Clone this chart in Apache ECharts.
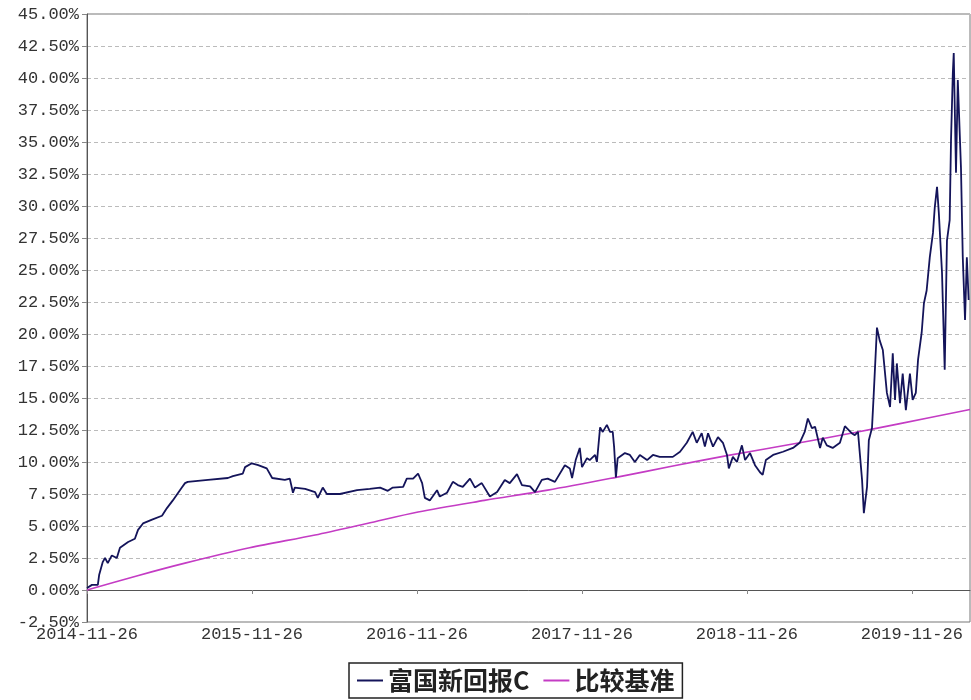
<!DOCTYPE html>
<html>
<head>
<meta charset="utf-8">
<script src="https://cdn.jsdelivr.net/npm/echarts@6/dist/echarts.min.js"></script>
<style>html,body{margin:0;padding:0;background:#fff;}#c{width:971px;height:700px;}</style>
</head>
<body>
<div id="c"></div>
<script>
// Tick labels (one per year, starting 2014-11-26)
var tickLabels = ['2014-11-26','2015-11-26','2016-11-26','2017-11-26','2018-11-26','2019-11-26'];
var daysPerYear = 365.25;
var lastDay = 1955;

// Fund: days since 2014-11-26 and cumulative return (%)
var fundDays = [0,11,24,27,35,40,46,55,66,73,91,106,113,124,144,166,177,190,210,217,223,268,312,323,345,350,365,379,398,410,438,449,456,460,483,505,511,522,531,560,598,626,649,666,677,700,708,722,733,742,748,759,775,781,797,810,821,832,848,859,874,892,908,925,936,952,963,981,992,1007,1020,1036,1058,1069,1074,1082,1091,1096,1107,1113,1125,1129,1136,1142,1151,1158,1164,1167,1171,1175,1191,1202,1213,1224,1240,1253,1268,1297,1313,1328,1341,1350,1361,1368,1375,1386,1397,1408,1417,1421,1430,1439,1450,1457,1468,1479,1490,1496,1503,1519,1541,1563,1578,1589,1596,1605,1612,1623,1629,1638,1651,1667,1678,1693,1700,1707,1716,1720,1727,1731,1738,1742,1749,1755,1762,1771,1778,1784,1789,1793,1800,1806,1813,1822,1828,1835,1840,1848,1853,1859,1866,1873,1877,1882,1886,1893,1899,1904,1910,1913,1917,1919,1924,1928,1935,1939,1944,1948,1952];
var fundValues = [0.15,0.4,0.4,1.2,2.2,2.5,2.1,2.7,2.5,3.3,3.75,4.0,4.7,5.2,5.5,5.8,6.4,7.0,8.0,8.35,8.45,8.6,8.75,8.9,9.1,9.6,9.9,9.75,9.5,8.75,8.6,8.7,7.6,8.0,7.9,7.65,7.2,8.0,7.5,7.5,7.8,7.9,8.0,7.75,8.0,8.05,8.7,8.7,9.1,8.35,7.2,7.0,7.8,7.3,7.6,8.45,8.2,8.05,8.7,8.0,8.35,7.3,7.65,8.6,8.35,9.05,8.2,8.1,7.65,8.6,8.7,8.45,9.75,9.5,8.75,10.15,11.1,9.6,10.3,10.15,10.55,10.0,12.7,12.35,12.9,12.35,12.35,11.2,8.8,10.3,10.7,10.55,10.0,10.55,10.15,10.55,10.4,10.4,10.8,11.5,12.35,11.5,12.25,11.2,12.25,11.2,11.95,11.5,10.55,9.5,10.4,10.0,11.3,10.15,10.7,9.75,9.2,9.0,10.15,10.55,10.8,11.1,11.5,12.35,13.4,12.65,12.75,11.1,11.9,11.3,11.1,11.5,12.8,12.25,12.1,12.35,8.6,6.0,8.05,11.7,12.65,15.4,20.5,19.5,18.75,15.4,14.3,18.5,14.85,17.7,14.6,16.9,14.05,16.9,14.85,15.4,18.0,20.1,22.4,23.4,26.0,27.9,29.9,31.5,29.45,24.8,17.2,27.3,28.9,35.2,40.4,41.95,32.6,39.85,33.0,26.0,21.1,26.0,22.65];

// Benchmark: days and cumulative return (%)
var benchDays = [0,110,217,360,505,620,733,880,1020,1171,1300,1417,1578,1700,1800,1955];
var benchValues = [0,1.1,2.1,3.3,4.3,5.2,6.1,7.0,7.8,8.8,9.7,10.5,11.5,12.3,13.0,14.1];

var fundName = '富国新回报C';
var benchName = '比较基准';

function pairs(xs, ys){ var o=[]; for(var i=0;i<xs.length;i++) o.push([xs[i], ys[i]]); return o; }

var chart = echarts.init(document.getElementById('c'));
var mono = 'Liberation Mono';
chart.setOption({
  animation: false,
  backgroundColor: '#ffffff',
  grid: { left: 87, right: 1, top: 14, bottom: 78, show: true, borderColor: '#777', borderWidth: 1, backgroundColor: 'transparent' },
  legend: {
    bottom: 2, left: 349,
    borderColor: '#222', borderWidth: 1.5, padding: [5, 8, 5, 8],
    itemWidth: 26, itemHeight: 2, itemGap: 14,
    icon: 'rect',
    textStyle: { fontFamily: 'Noto Sans CJK SC', fontSize: 25, fontWeight: 'bold', color: '#222' },
    data: [fundName, benchName]
  },
  xAxis: {
    type: 'value', min: 0, max: lastDay, interval: daysPerYear,
    axisLine: { show: true, lineStyle: { color: '#555', width: 1 } },
    axisTick: { show: true, length: 4, lineStyle: { color: '#888' } },
    splitLine: { show: false },
    axisLabel: {
      showMaxLabel: false, margin: 4,
      fontFamily: mono, fontSize: 17, color: '#333',
      formatter: function(v){ var i = Math.round(v / daysPerYear); return tickLabels[i] || ''; }
    }
  },
  yAxis: {
    type: 'value', min: -2.5, max: 45, interval: 2.5,
    axisLine: { show: true, lineStyle: { color: '#555', width: 1 } },
    axisTick: { show: true, length: 5, lineStyle: { color: '#888' } },
    splitLine: { show: true, lineStyle: { color: '#bbb', type: [4, 3], width: 1 } },
    axisLabel: {
      margin: 8, fontFamily: mono, fontSize: 17, color: '#333',
      formatter: function(v){ return v.toFixed(2) + '%'; }
    }
  },
  series: [
    { name: fundName, type: 'line', data: pairs(fundDays, fundValues), showSymbol: false, symbol: 'none',
      lineStyle: { color: '#14145a', width: 1.8 }, itemStyle: { color: '#14145a' }, z: 3 },
    { name: benchName, type: 'line', data: pairs(benchDays, benchValues), showSymbol: false, symbol: 'none', smooth: 0.3,
      lineStyle: { color: '#c43cc4', width: 1.6 }, itemStyle: { color: '#c43cc4' }, z: 2 }
  ]
});
</script>
</body>
</html>
